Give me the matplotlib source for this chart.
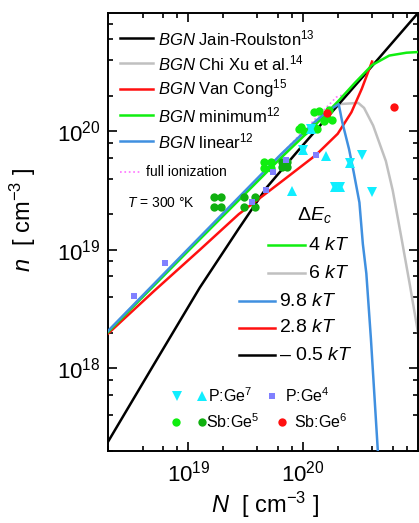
import matplotlib

matplotlib.use("Agg")
import matplotlib.pyplot as plt
from matplotlib.ticker import FixedLocator, LogLocator, LogFormatterMathtext, NullFormatter

plt.rcParams["font.family"] = ["Liberation Sans", "DejaVu Sans"]
plt.rcParams["mathtext.fontset"] = "custom"
plt.rcParams["mathtext.rm"] = "Liberation Sans"
plt.rcParams["mathtext.it"] = "Liberation Sans:italic"
plt.rcParams["mathtext.bf"] = "Liberation Sans:bold"

# --- model curves: n (free carriers) vs N (dopant), cm^-3 ---
full_N = [1.9e18, 1.95e20, 2.6e20]
full_n = [1.9e18, 1.95e20, 2.14e20]

jain_N = [1.9e18, 5.0e18, 1.26e19, 2.75e19, 4.8e19, 9.3e19, 3.16e20, 1.0e21]
jain_n = [2.2e17, 1.07e18, 4.8e18, 1.51e19, 3.35e19, 7.1e19, 2.75e20, 1.0e21]

xu_N = [1.9e18, 1.0e19, 6.31e19, 1.26e20, 2.04e20, 3.02e20, 3.39e20, 4.07e20,
        5.25e20, 6.03e20, 7.24e20, 8.51e20, 1.0e21]
xu_n = [1.95e18, 1.0e19, 6.17e19, 1.17e20, 1.7e20, 1.74e20, 1.58e20, 1.12e20,
        5.62e19, 3.16e19, 1.2e19, 5.0e18, 2.0e18]

vancong_N = [1.9e18, 5.01e18, 1.26e19, 2.75e19, 6.76e19, 1.29e20, 2.0e20,
             2.63e20, 3.24e20, 3.98e20]
vancong_n = [1.87e18, 4.47e18, 1.0e19, 2.0e19, 3.89e19, 6.31e19, 9.55e19,
             1.45e20, 2.29e20, 3.89e20]

minimum_N = [1.9e18, 1.0e19, 6.31e19, 1.26e20, 2.04e20, 2.82e20, 3.98e20,
             5.62e20, 7.94e20, 1.0e21]
minimum_n = [1.92e18, 9.8e18, 5.89e19, 1.12e20, 1.82e20, 2.57e20, 3.63e20,
             4.37e20, 4.62e20, 4.68e20]

linear_N = [1.9e18, 1.0e19, 6.31e19, 1.26e20, 1.58e20, 2.04e20, 2.19e20, 2.51e20,
            2.75e20, 3.09e20, 3.31e20, 3.55e20, 3.89e20, 4.47e20, 4.68e20]
linear_n = [1.96e18, 1.02e19, 6.31e19, 1.2e20, 1.45e20, 1.7e20, 1.2e20, 7.08e19,
            4.57e19, 2.51e19, 1.12e19, 6.31e18, 1.78e18, 2.0e17, 1.0e17]

# --- measurements ---
pge4_N = [3.39e18, 6.3e18, 3.6e19, 4.76e19, 5.48e19, 7.1e19, 1.30e20]
pge4_n = [4.07e18, 7.75e18, 2.55e19, 3.22e19, 4.5e19, 5.68e19, 6.38e19]

pge7_up_N = [1.58e20, 8.0e19, 1.0e20, 2.56e20, 1.9e20, 2.1e20, 1.17e20]
pge7_up_n = [6.14e19, 3.16e19, 7.0e19, 5.36e19, 3.42e19, 3.42e19, 1.04e20]
pge7_down_N = [3.26e20, 3.98e20, 1.0e20, 2.56e20, 1.9e20, 2.1e20, 1.17e20]
pge7_down_n = [6.38e19, 3.1e19, 7.0e19, 5.36e19, 3.42e19, 3.42e19, 1.04e20]

sbge5_dark_N = [1.68e19, 1.94e19, 1.68e19, 1.94e19, 3.07e19, 3.07e19, 3.8e19, 3.8e19,
                6.56e19, 7.26e19, 6.56e19, 7.26e19]
sbge5_dark_n = [2.81e19, 2.81e19, 2.31e19, 2.31e19, 2.81e19, 2.31e19, 2.81e19, 2.31e19,
                5.57e19, 5.57e19, 4.98e19, 4.98e19]
sbge5_bright_N = [4.58e19, 5.27e19, 4.58e19, 5.27e19, 9.6e19, 1.02e20, 9.2e19,
                  1.25e20, 1.38e20, 1.52e20, 1.68e20, 1.79e20, 1.62e20, 1.25e20, 1.32e20]
sbge5_bright_n = [5.57e19, 5.57e19, 4.95e19, 4.95e19, 1.1e20, 1.0e20, 1.04e20,
                  1.45e20, 1.48e20, 1.22e20, 1.53e20, 1.26e20, 1.31e20, 1.1e20, 1.04e20]

sbge6_N = [1.62e20, 6.18e20]
sbge6_n = [1.42e20, 1.6e20]

C_BLACK = "#000000"
C_GREY = "#c0c0c0"
C_RED = "#ff1010"
C_GREEN = "#10ee10"
C_BLUE = "#4090e0"
C_PINK = "#ff70ff"
C_CYAN = "#10eeff"
C_SQUARE = "#8080ff"
C_DKGREEN = "#10b010"

W, H = 419, 523
L, R, T, B = 108, 418, 13, 451


def axpos(px, py):
    return (px - L) / (R - L), (B - py) / (B - T)


fig = plt.figure(figsize=(W / 100, H / 100), dpi=100)
ax = fig.add_axes([L / W, (H - B) / H, (R - L) / W, (B - T) / H])
ax.set_xscale("log")
ax.set_yscale("log")
ax.set_xlim(2e18, 1e21)
ax.set_ylim(2e17, 1e21)

lw = 1.8
ax.plot(full_N, full_n, color=C_PINK, lw=1.2, ls=":", zorder=1)
ax.plot(xu_N, xu_n, color=C_GREY, lw=lw, zorder=2)
ax.plot(jain_N, jain_n, color=C_BLACK, lw=lw, zorder=3)
ax.plot(vancong_N, vancong_n, color=C_RED, lw=lw, zorder=4)
ax.plot(minimum_N, minimum_n, color=C_GREEN, lw=lw, zorder=5)
ax.plot(linear_N, linear_n, color=C_BLUE, lw=lw, zorder=6)

ax.plot(sbge5_dark_N, sbge5_dark_n, "o", color=C_DKGREEN, ms=6, mew=0, zorder=7)
ax.plot(sbge5_bright_N, sbge5_bright_n, "o", color=C_GREEN, ms=6, mew=0, zorder=7)
ax.plot(pge4_N, pge4_n, "s", color=C_SQUARE, ms=5, mew=0, zorder=8)
ax.plot(pge7_up_N, pge7_up_n, "^", color=C_CYAN, ms=7, mew=0, zorder=9)
ax.plot(pge7_down_N, pge7_down_n, "v", color=C_CYAN, ms=7, mew=0, zorder=9)
ax.plot(sbge6_N, sbge6_n, "o", color=C_RED, ms=6, mew=0, zorder=10)

# axes styling
for s in ax.spines.values():
    s.set_linewidth(1.4)
ax.xaxis.set_major_locator(FixedLocator([1e19, 1e20]))
ax.yaxis.set_major_locator(FixedLocator([1e18, 1e19, 1e20]))
ax.xaxis.set_minor_locator(LogLocator(base=10, subs=(2, 4, 6, 8), numticks=20))
ax.yaxis.set_minor_locator(LogLocator(base=10, subs=(2, 4, 6, 8), numticks=20))
ax.xaxis.set_major_formatter(LogFormatterMathtext())
ax.yaxis.set_major_formatter(LogFormatterMathtext())
ax.xaxis.set_minor_formatter(NullFormatter())
ax.yaxis.set_minor_formatter(NullFormatter())
ax.tick_params(which="both", direction="in", top=True, right=True, width=1.2)
ax.tick_params(which="major", length=6.5, labelsize=16)
ax.tick_params(axis="y", which="major", pad=5)
ax.tick_params(axis="x", which="major", pad=7)
ax.tick_params(which="minor", length=3.5)

fig.text(265 / W, 1 - 505 / H, r"$N$  [ cm$^{-3}$ ]", fontsize=17, ha="center", va="center")
fig.text(23 / W, 1 - 220 / H, r"$n$  [ cm$^{-3}$ ]", fontsize=17, ha="center", va="center",
         rotation=90)

# model legend (top left)
bgn_labels = [r"$\mathit{BGN}$ Jain-Roulston$^{13}$", r"$\mathit{BGN}$ Chi Xu et al.$^{14}$",
              r"$\mathit{BGN}$ Van Cong$^{15}$", r"$\mathit{BGN}$ minimum$^{12}$",
              r"$\mathit{BGN}$ linear$^{12}$"]
bgn_colors = [C_BLACK, C_GREY, C_RED, C_GREEN, C_BLUE]
bgn_rows = [38, 63, 89, 115, 141]
for lab, col, py in zip(bgn_labels, bgn_colors, bgn_rows):
    x0, y0 = axpos(120, py)
    x1, _ = axpos(153, py)
    ax.plot([x0, x1], [y0, y0], color=col, lw=lw, transform=ax.transAxes, clip_on=False)
    tx, _ = axpos(158, py)
    ax.text(tx, y0, lab, fontsize=12, va="center", ha="left", transform=ax.transAxes)

x0, y0 = axpos(120, 172)
x1, _ = axpos(140, 172)
ax.plot([x0, x1], [y0, y0], color=C_PINK, lw=1.2, ls=":", transform=ax.transAxes)
tx, _ = axpos(146, 172)
ax.text(tx, y0, "full ionization", fontsize=10, va="center", transform=ax.transAxes)

tx, ty = axpos(127, 203)
ax.text(tx, ty, r"$T$ = 300 °K", fontsize=10, va="center", transform=ax.transAxes)

# Delta E_c legend
tx, ty = axpos(297, 215)
ax.text(tx, ty, r"$\mathit{\Delta E_c}$", fontsize=14, va="center", transform=ax.transAxes)
de_labels = [r"4 $kT$", r"6 $kT$", r"9.8 $kT$", r"2.8 $kT$", "\u2013 0.5 $kT$"]
de_colors = [C_GREEN, C_GREY, C_BLUE, C_RED, C_BLACK]
de_rows = [245, 273, 301, 328, 355]
de_x = [(268, 305, 308), (268, 305, 308), (239, 275, 279), (239, 275, 279), (239, 275, 279)]
for lab, col, py, (a, b, c) in zip(de_labels, de_colors, de_rows, de_x):
    x0, y0 = axpos(a, py)
    x1, _ = axpos(b, py)
    ax.plot([x0, x1], [y0, y0], color=col, lw=lw, transform=ax.transAxes)
    tx, _ = axpos(c, py)
    ax.text(tx, y0, lab, fontsize=14, va="center", transform=ax.transAxes)

# data legend (bottom)
mk = [((177, 396), "v", C_CYAN, 7), ((202, 396), "^", C_CYAN, 7),
      ((272, 396), "s", C_SQUARE, 5), ((176, 422), "o", C_GREEN, 6),
      ((202, 422), "o", C_DKGREEN, 6), ((282, 422), "o", C_RED, 6)]
for (px, py), m, col, ms in mk:
    x0, y0 = axpos(px, py)
    ax.plot([x0], [y0], m, color=col, ms=ms, mew=0, transform=ax.transAxes)
for (px, py), lab in [((208, 396), r"P:Ge$^{7}$"), ((285, 396), r"P:Ge$^{4}$"),
                      ((206, 422), r"Sb:Ge$^{5}$"), ((294, 422), r"Sb:Ge$^{6}$")]:
    tx, ty = axpos(px, py)
    ax.text(tx, ty, lab, fontsize=11.5, va="center", transform=ax.transAxes)

fig.savefig("out.png", dpi=100)
